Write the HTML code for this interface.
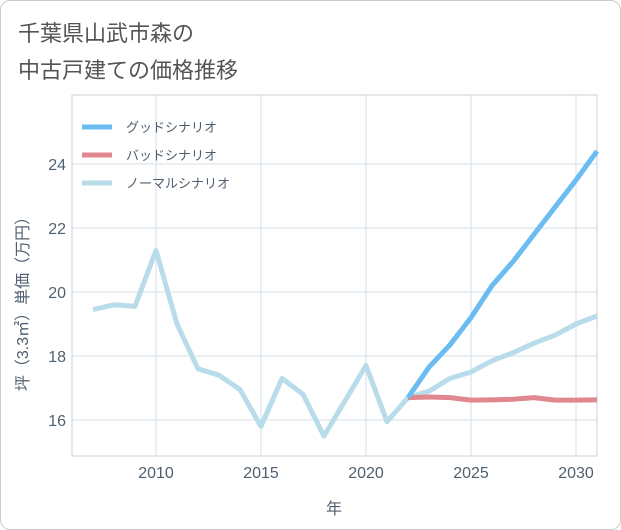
<!DOCTYPE html>
<html><head><meta charset="utf-8"><style>
body{margin:0;background:#fff;font-family:"Liberation Sans","Noto Sans CJK JP",sans-serif;}
.card{position:absolute;left:0;top:0;width:619px;height:528px;border:1px solid #ccc;border-radius:10px;background:#fff;}
.title{position:absolute;left:18px;top:15px;font-size:22px;line-height:37px;color:#555;}
</style></head><body>
<div class="card"></div>
<div class="title">千葉県山武市森の<br>中古戸建ての価格推移</div>
<svg id="chart" width="621" height="530" style="position:absolute;left:0;top:0"></svg>
<script>
const years=[2007,2008,2009,2010,2011,2012,2013,2014,2015,2016,2017,2018,2019,2020,2021,2022,2023,2024,2025,2026,2027,2028,2029,2030,2031];
const normal=[19.45,19.6,19.55,21.3,19.0,17.6,17.4,16.95,15.8,17.3,16.8,15.5,16.6,17.7,15.95,16.7,16.9,17.3,17.5,17.85,18.1,18.4,18.65,19.0,19.25];
const fYears=[2022,2023,2024,2025,2026,2027,2028,2029,2030,2031];
const good=[16.7,17.65,18.35,19.2,20.2,20.95,21.8,22.65,23.5,24.4];
const bad=[16.7,16.72,16.7,16.62,16.63,16.65,16.7,16.62,16.62,16.63];
const xTicks=[2010,2015,2020,2025,2030];
const yTicks=[16,18,20,22,24];
const L=72,R=597,T=95,B=456;
const x=v=>L+(v-2006)*(R-L)/25;
const y=v=>B-(v-14.875)*32;
const svg=document.getElementById('chart');
const NS='http://www.w3.org/2000/svg';
const TXT='#4f5f6f';
function mk(t,a){const e=document.createElementNS(NS,t);for(const k in a)e.setAttribute(k,a[k]);svg.appendChild(e);return e;}
let bg=mk('rect',{x:L,y:T,width:R-L,height:B-T,fill:'#fff',stroke:'#c8d0d8'});


xTicks.forEach(v=>{
 let g=mk('line',{x1:x(v),x2:x(v),y1:T,y2:B,stroke:'#d5dfe8'});
 
 
 let t=mk('text',{x:x(v),y:478,'text-anchor':'middle','font-size':16,fill:TXT});t.textContent=v;
 
 
});
yTicks.forEach(v=>{
 let g=mk('line',{x1:L,x2:R,y1:y(v),y2:y(v),stroke:'#d5dfe8'});
 
 
 let t=mk('text',{x:66,y:y(v)+6,'text-anchor':'end','font-size':16,fill:TXT});t.textContent=v;
 
 
});
let xt=mk('text',{x:334,y:514,'text-anchor':'middle','font-size':16,fill:TXT});xt.textContent='年';


let yt=mk('text',{x:0,y:0,'text-anchor':'middle','font-size':16,fill:TXT,transform:'translate(28,300) rotate(-90)'});yt.textContent='坪（3.3㎡）単価（万円）';


function line(xs,vs,c,n){
 let p=mk('polyline',{points:xs.map((v,i)=>x(v)+','+y(vs[i])).join(' '),fill:'none',stroke:c,'stroke-width':5,'stroke-linejoin':'round'});
 
 
}
line(years,normal,'#b8dcea','normal-scenario-line');
line(fYears,bad,'#e0878f','bad-scenario-line');
line(fYears,good,'#6bbcf0','good-scenario-line');
[['グッドシナリオ','#6bbcf0',127],['バッドシナリオ','#e0878f',155],['ノーマルシナリオ','#b8dcea',183]].forEach(l=>{
 let s=mk('line',{x1:82,x2:112,y1:l[2],y2:l[2],stroke:l[1],'stroke-width':5});
 
 
 let t=mk('text',{x:126,y:l[2]+5,'font-size':13,fill:TXT});t.textContent=l[0];
 
 
});
</script>
</body></html>
